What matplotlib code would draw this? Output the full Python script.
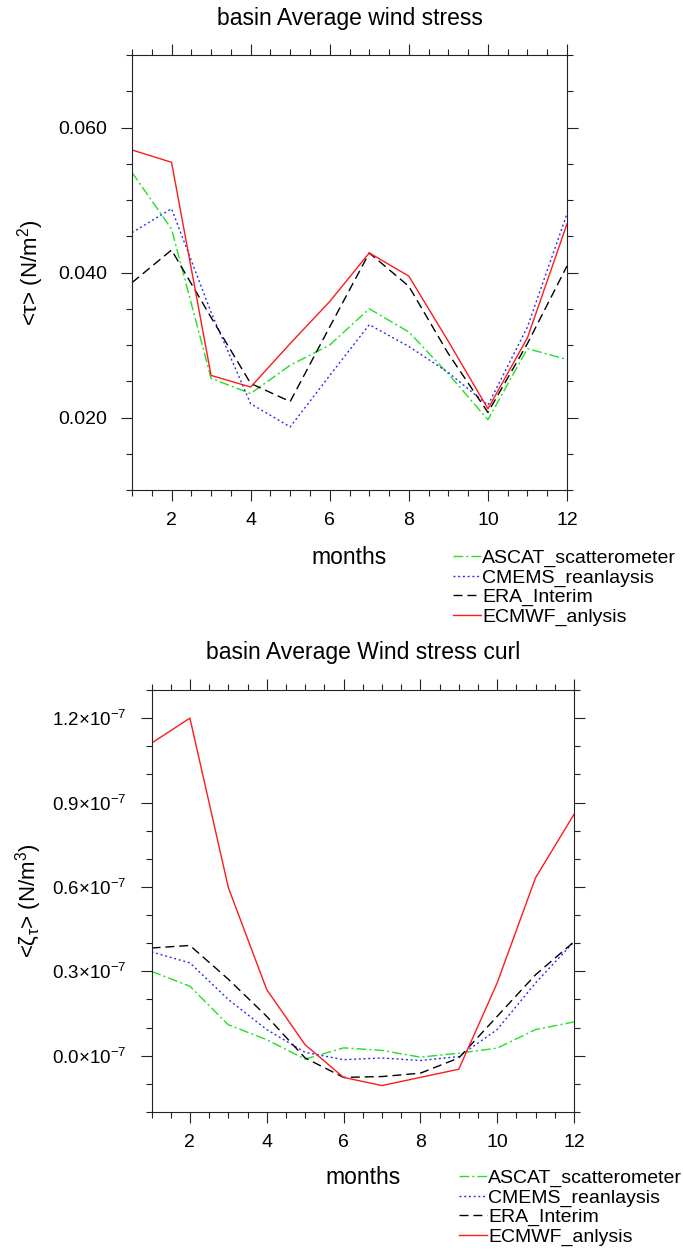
import numpy as np
import matplotlib
matplotlib.use('Agg')
import matplotlib.pyplot as plt
import matplotlib.ticker as mticker
from matplotlib import rcParams

# ── fonts (Helvetica-like, as NCL) ─────────────────────────────────────────
rcParams['font.family'] = ['Liberation Sans', 'DejaVu Sans']
rcParams['mathtext.fontset'] = 'custom'
rcParams['mathtext.rm'] = 'Liberation Sans'
rcParams['mathtext.it'] = 'Liberation Sans:italic'
rcParams['mathtext.bf'] = 'Liberation Sans:bold'

# ── data ───────────────────────────────────────────────────────────────────
months = np.arange(1, 13)

# basin average wind stress (N/m2)
tau_ascat = [0.0538, 0.0460, 0.0254, 0.0233, 0.0272, 0.0300,
             0.0350, 0.0318, 0.0260, 0.0197, 0.0295, 0.0280]
tau_cmems = [0.0455, 0.0488, 0.0345, 0.0219, 0.0187, 0.0258,
             0.0328, 0.0298, 0.0262, 0.0217, 0.0325, 0.0481]
tau_era   = [0.0386, 0.0431, 0.0338, 0.0247, 0.0222, 0.0325,
             0.0427, 0.0381, 0.0288, 0.0207, 0.0302, 0.0409]
tau_ecmwf = [0.0569, 0.0552, 0.0258, 0.0242, 0.0302, 0.0360,
             0.0427, 0.0395, 0.0305, 0.0212, 0.0310, 0.0467]

# basin average wind stress curl (x 1e-7 N/m3)
curl_ascat = [0.300, 0.247, 0.110, 0.057, -0.012, 0.028,
              0.019, -0.005, 0.009, 0.027, 0.093, 0.120]
curl_cmems = [0.369, 0.330, 0.200, 0.093, 0.012, -0.014,
              -0.008, -0.017, -0.003, 0.093, 0.259, 0.405]
curl_era   = [0.383, 0.392, 0.272, 0.140, -0.008, -0.077,
              -0.074, -0.062, -0.008, 0.140, 0.288, 0.405]
curl_ecmwf = [1.111, 1.200, 0.598, 0.235, 0.039, -0.077,
              -0.106, -0.077, -0.048, 0.259, 0.633, 0.858]

names = ['ASCAT_scatterometer', 'CMEMS_reanlaysis', 'ERA_Interim', 'ECMWF_anlysis']
colors = ['#22E022', '#2626FF', 'black', '#FF1A1A']
styles = [(0, (7, 2.2, 1.5, 2.2)), (0, (1.4, 2.0)), (0, (6.5, 3.5)), '-']

W, H = 683, 1250
fig = plt.figure(figsize=(W / 100, H / 100), dpi=100, facecolor='white')

ax1 = fig.add_axes([132 / W, 1 - 490 / H, 435 / W, 435 / H])
ax2 = fig.add_axes([151.5 / W, 1 - 1112 / H, 422.5 / W, 422 / H])


def style_axes(ax):
    ax.set_xlim(1, 12)
    ax.xaxis.set_major_locator(mticker.MultipleLocator(2))
    ax.xaxis.set_minor_locator(mticker.MultipleLocator(0.5))
    ax.tick_params(which='both', direction='out', top=True, right=True,
                   labeltop=False, labelright=False, width=0.8, color='#222222')
    ax.tick_params(which='major', length=8, labelsize=14)
    ax.tick_params(which='minor', length=4)
    ax.tick_params(axis='x', pad=8)
    ax.tick_params(axis='y', pad=10)
    for sp in ax.spines.values():
        sp.set_linewidth(0.8)
        sp.set_color('#222222')


def draw_legend(ax, x0, y_top):
    fig.legend(*ax.get_legend_handles_labels(), loc='upper left',
               bbox_to_anchor=(x0 / W, 1 - y_top / H), bbox_transform=fig.transFigure,
               frameon=False, fontsize=14, borderpad=0, borderaxespad=0,
               handlelength=1.45, handletextpad=0.05, labelspacing=0.1)


# ── top panel: wind stress ─────────────────────────────────────────────────
for vals, name, c, ls in zip([tau_ascat, tau_cmems, tau_era, tau_ecmwf],
                             names, colors, styles):
    ax1.plot(months, vals, color=c, ls=ls, lw=1.0, label=name)

style_axes(ax1)
ax1.set_ylim(0.01, 0.07)
ax1.yaxis.set_major_locator(mticker.MultipleLocator(0.02))
ax1.yaxis.set_minor_locator(mticker.MultipleLocator(0.005))
ax1.yaxis.set_major_formatter(mticker.FormatStrFormatter('%.3f'))
ax1.set_title('basin Average wind stress', fontsize=16.5, y=1.069, pad=0)
ax1.set_xlabel('months', fontsize=16.5)
ax1.xaxis.set_label_coords(0.5, -0.129)
ax1.set_ylabel('<τ> (N/m$^2$)', fontsize=16)
ax1.yaxis.set_label_coords(-0.198, 0.5)
draw_legend(ax1, 453, 549)

# ── bottom panel: wind stress curl ─────────────────────────────────────────
for vals, name, c, ls in zip([curl_ascat, curl_cmems, curl_era, curl_ecmwf],
                             names, colors, styles):
    ax2.plot(months, vals, color=c, ls=ls, lw=1.0, label=name)

style_axes(ax2)
ax2.set_ylim(-0.2, 1.3)
ax2.yaxis.set_major_locator(mticker.MultipleLocator(0.3))
ax2.yaxis.set_minor_locator(mticker.MultipleLocator(0.1))
ax2.yaxis.set_major_formatter(mticker.FuncFormatter(
    lambda v, _: r'$%.1f{\times}10^{-7}$' % (abs(v) if abs(v) < 1e-9 else v)))
ax2.tick_params(axis='y', labelsize=13.5)
ax2.set_title('basin Average Wind stress curl', fontsize=16.5, y=1.0735, pad=0)
ax2.set_xlabel('months', fontsize=16.5)
ax2.xaxis.set_label_coords(0.5, -0.128)
ax2.set_ylabel(r'<ζ$_{\mathrm{τ}}$> (N/m$^3$)', fontsize=16)
ax2.yaxis.set_label_coords(-0.254, 0.5)
draw_legend(ax2, 459, 1169)

fig.savefig('out.png', dpi=100, facecolor='white')
